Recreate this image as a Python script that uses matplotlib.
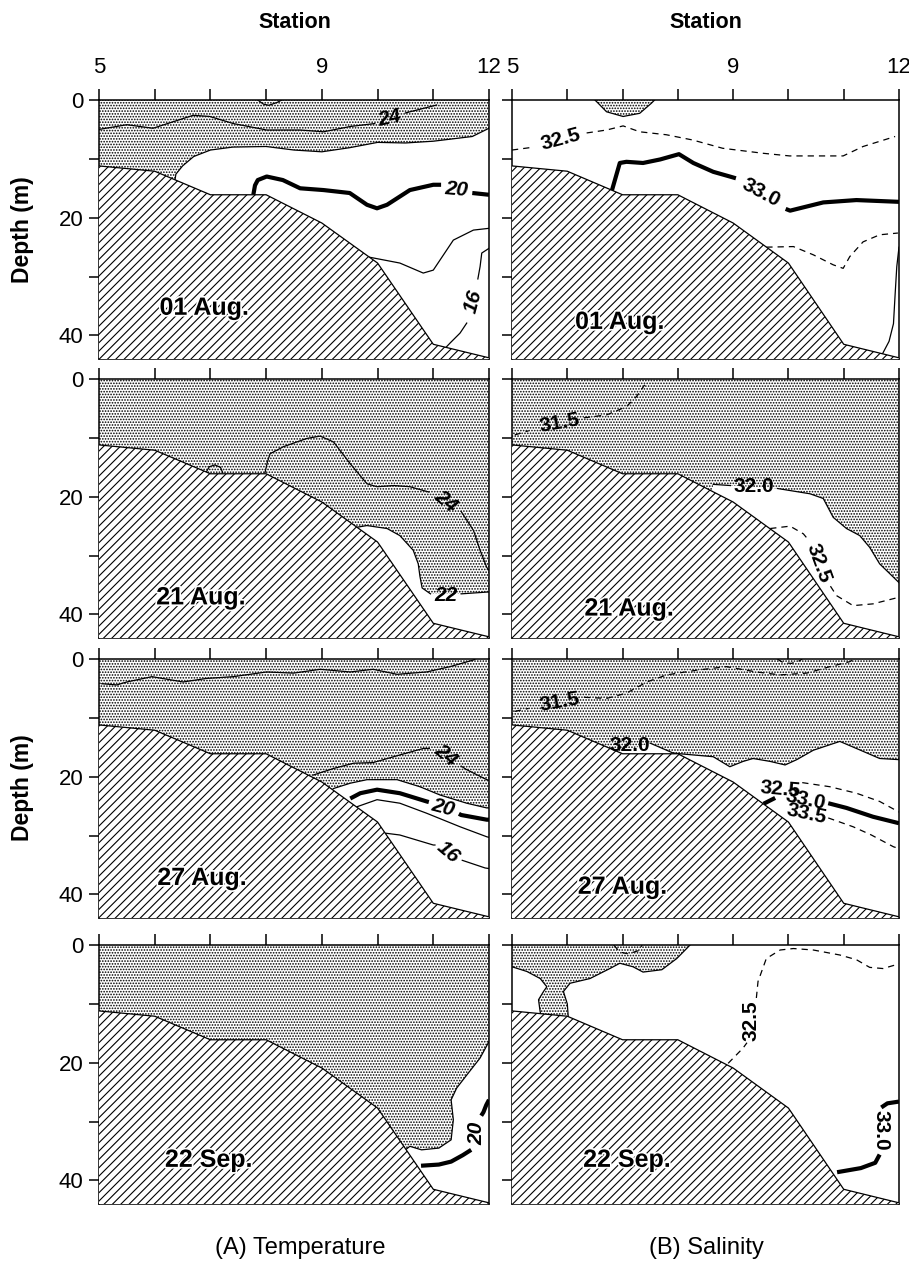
import numpy as np
import matplotlib.pyplot as plt
import matplotlib.patheffects as pe
from matplotlib import font_manager

plt.rcParams['font.family'] = 'Liberation Sans'
plt.rcParams['hatch.linewidth'] = 0.8

# bottom profile along the section (station, depth m) - same for all surveys
stations = [5, 6, 7, 8, 9, 10, 11, 12]
bottom_depth = [11.2, 12.1, 16.1, 16.1, 20.9, 27.7, 41.5, 43.8]
max_depth = 44

station_ticks = [5, 6, 7, 8, 9, 10, 11, 12]
station_labels = ['5', '', '', '', '9', '', '', '12']
depth_ticks = [0, 10, 20, 30, 40]
depth_labels = ['0', '', '20', '', '40']

dates = ['01 Aug.', '21 Aug.', '27 Aug.', '22 Sep.']

# isolines, (station, depth); None = gap for the label
# --- temperature 01 Aug
t1_edge = [(12, 4.8), (11.7, 6.2), (11.0, 7.0), (10.5, 7.3), (10.0, 7.2), (9.5, 8.1), (9.0, 8.8),
           (8.5, 8.5), (8.0, 7.9), (7.4, 8.0), (7.0, 8.5), (6.7, 9.6), (6.5, 11.2), (6.38, 12.6), (6.36, 13.8)]
t1_24 = [(5.0, 5.0), (5.5, 4.2), (5.97, 4.8), (6.33, 3.7), (6.69, 2.6), (6.99, 2.8), (7.41, 4.0),
         (8.01, 5.1), (8.61, 5.1), (9.03, 5.4), (9.51, 4.5), (9.95, 4.0), None, (10.5, 2.2), (11.06, 0.85)]
t1_cap = [(7.85, 0), (7.95, 0.7), (8.05, 0.9), (8.2, 0.4), (8.28, 0)]
t1_20 = [(7.77, 16.1), (7.8, 14.5), (7.85, 13.6), (8.01, 13.0), (8.3, 13.6), (8.61, 15.0), (9.03, 15.3),
         (9.5, 15.8), (9.81, 17.8), (9.99, 18.4), (10.17, 17.8), (10.58, 15.3), (11.0, 14.4), (11.14, 14.4),
         None, (11.7, 15.8), (12, 16.1)]
t1_18 = [(9.85, 26.7), (10.4, 27.7), (10.82, 29.4), (11.0, 28.9), (11.36, 23.8), (11.72, 22.1), (12, 21.8)]
t1_16 = [(12, 25.2), (11.87, 26.0), (11.84, 28.3), (11.8, 30.4), None,
         (11.6, 37.9), (11.48, 39.6), (11.3, 41.3), (11.15, 42.8)]
# --- salinity 01 Aug
s1_edge = [(6.5, 0), (6.56, 0.56), (6.71, 2.0), (7.01, 2.8), (7.31, 2.26), (7.52, 0.56), (7.58, 0)]
s1_325 = [(5.0, 8.5), (5.4, 8.0), None, (6.35, 5.6), (6.71, 5.1), (7.01, 4.4), (7.31, 5.4), (7.79, 5.9),
          (8.27, 6.8), (8.81, 8.2), (9.54, 9.05), (10.02, 9.5), (10.99, 9.5), (11.35, 7.9), (11.93, 6.2)]
s1_33 = [(6.8, 15.6), (6.95, 10.7), (7.07, 10.5), (7.37, 10.7), (7.68, 10.1), (8.02, 9.2), (8.28, 10.7),
         (8.64, 12.2), (8.94, 13.0), (9.05, 13.3), None, (9.95, 18.5), (10.03, 18.8), (10.2, 18.4),
         (10.63, 17.4), (11.23, 17.0), (12, 17.3)]
s1_deep = [(9.6, 25.0), (10.09, 24.9), (10.45, 26.3), (10.81, 28.0), (10.99, 28.6), (11.11, 26.6),
           (11.35, 24.1), (11.65, 22.9), (11.98, 22.6)]
s1_side = [(12, 25.0), (11.96, 28.3), (11.93, 33), (11.9, 38), (11.82, 41), (11.68, 43.5)]
# --- temperature 21 Aug
t2_22 = [(9.62, 25.2), (9.81, 24.9), (10.17, 25.4), (10.4, 26.6), (10.64, 29.1), (10.73, 31.4),
         (10.76, 33.5), (10.8, 35.5), (10.95, 36.5), None, (11.5, 36.5), (11.96, 36.2), (12, 36.2)]
t2_24 = [(7.98, 15.9), (8.02, 14.2), (8.07, 12.7), (8.31, 11.5), (8.73, 10.1), (8.97, 9.7), (9.21, 10.7),
         (9.51, 14.4), (9.81, 17.8), (9.99, 18.3), (10.29, 18.1), (10.58, 18.3), (10.92, 19.2), None,
         (11.5, 22.5), (11.72, 25.7), (11.84, 29.1), (11.96, 32.0), (12, 32.5)]
t2_bump = [(6.92, 15.9), (6.98, 14.9), (7.08, 14.6), (7.18, 15.0), (7.22, 15.9)]
# --- salinity 21 Aug
s2_315 = [(5.05, 9.5), (5.3, 8.8), None, (6.3, 6.6), (6.71, 6.1), (7.07, 4.7), (7.25, 3.0), (7.4, 1.0)]
s2_32 = [(8.64, 17.9), (8.95, 18.1), None, (9.8, 18.6), (10.39, 19.5), (10.63, 20.3), (10.81, 23.5),
         (11.05, 25.4), (11.29, 26.6), (11.47, 28.6), (11.65, 31.4), (11.99, 34.5), (12, 34.6)]
s2_325 = [(9.67, 25.4), (10.03, 25.0), (10.27, 26.3), (10.35, 27.2), None, (10.76, 35.2), (10.87, 36.8),
          (11.17, 38.5), (11.53, 38.2), (11.99, 37.1)]
# --- temperature 27 Aug
t3_edge = [(9.21, 22.0), (9.51, 21.1), (9.81, 20.5), (10.35, 20.5), (10.76, 21.7), (11.12, 23.1),
           (11.6, 24.5), (11.96, 25.3), (12, 25.3)]
t3_surf = [(5.05, 4.2), (5.32, 4.4), (5.5, 3.9), (5.95, 3.0), (6.51, 3.9), (6.93, 3.3), (7.41, 3.0),
           (8.01, 2.2), (8.49, 2.4), (8.97, 1.75), (9.51, 2.2), (9.92, 1.75), (10.35, 2.6), (10.88, 2.2),
           (11.3, 1.3), (11.72, 0.17), (11.75, 0)]
t3_24 = [(8.85, 19.7), (9.21, 18.6), (9.57, 17.7), (9.92, 17.6), (10.4, 16.3), (10.82, 15.2), (10.93, 15.2),
         None, (11.5, 18.2), (11.6, 18.8), (11.96, 20.5), (12, 20.6)]
t3_20 = [(9.51, 23.7), (9.69, 22.8), (9.99, 22.2), (10.4, 22.8), (10.88, 24.2), (10.92, 24.3), None,
         (11.46, 26.3), (11.5, 26.5), (11.96, 27.3), (12, 27.3)]
t3_18 = [(9.63, 25.1), (9.99, 23.9), (10.4, 24.5), (10.88, 26.2), (11.48, 28.5), (11.96, 30.2), (12, 30.3)]
t3_16 = [(10.15, 29.6), (10.4, 29.9), (11.0, 31.6), (11.03, 31.6), None, (11.52, 34.2), (11.93, 35.5), (12, 35.6)]
# --- salinity 27 Aug
s3_32 = [(7.5, 14.3), (7.92, 16.0), (8.64, 16.6), (8.94, 18.3), (9.18, 17.4), (9.36, 16.9), (9.67, 17.4),
         (9.94, 18.0), (10.15, 17.1), (10.45, 15.5), (10.93, 14.0), (11.23, 15.2), (11.65, 16.9), (12, 17.1)]
s3_315 = [(5.05, 8.9), (5.3, 8.4), None, (6.3, 6.5), (6.71, 6.7), (7.07, 5.8), (7.44, 3.9), (7.8, 2.7),
          (8.34, 1.9), (8.88, 1.3), (9.42, 2.2), (9.85, 2.7), (10.33, 2.4), (10.75, 1.3), (11.11, 0.45), (11.2, 0)]
s3_bump = [(9.8, 0), (9.9, 0.6), (10.05, 0.75), (10.2, 0.3), (10.25, 0)]
s3_325 = [(10.25, 21.0), (10.75, 21.7), (11.23, 22.8), (11.65, 24.2), (12, 26.0)]
s3_33 = [(9.55, 24.6), (9.76, 23.6), None, (10.72, 24.5), (11.05, 25.3), (11.53, 26.8), (12, 27.9)]
s3_335 = [(10.72, 27.0), (11.17, 28.5), (11.5, 29.9), (11.9, 31.9), (12, 32.2)]
# --- temperature 22 Sep
t4_edge = [(12, 16.4), (11.84, 19.2), (11.6, 22.1), (11.42, 24.3), (11.32, 26.3), (11.36, 29.7),
           (11.32, 33.1), (11.1, 34.5), (10.79, 34.8), (10.58, 34.2), (10.5, 34.8)]
t4_20 = [(10.78, 37.5), (11.1, 37.3), (11.32, 36.8), (11.53, 35.7), (11.68, 34.8), None,
         (11.86, 29.0), (11.9, 28.4), (11.95, 27.2), (12, 26.3)]
# --- salinity 22 Sep
s4_edge = [(8.22, 0), (8.19, 0.3), (7.98, 2.3), (7.71, 4.2), (7.37, 4.6), (7.19, 3.7), (6.95, 3.1),
           (6.77, 4.0), (6.41, 5.7), (6.05, 6.5), (5.93, 7.9), (6.0, 10.0), (6.02, 12.5)]
s4_edge2 = [(5.0, 3.7), (5.27, 4.5), (5.51, 5.7), (5.63, 7.1), (5.57, 7.9), (5.48, 9.3), (5.5, 10.7), (5.52, 12.0)]
s4_dip = [(6.84, 0), (6.95, 1.2), (7.1, 1.5), (7.31, 0.9), (7.35, 0)]
s4_325 = [(8.91, 20.1), (9.18, 17.5), (9.25, 16.6), None, (9.42, 9.0), (9.45, 6.2), (9.6, 2.3), (9.85, 0.85),
          (10.09, 0.6), (10.45, 0.85), (10.93, 1.7), (11.23, 2.5), (11.47, 3.8), (11.71, 4.0), (11.93, 3.4), (12, 3.2)]
s4_33 = [(10.88, 38.6), (11.31, 37.9), (11.57, 37.0), (11.65, 35.6), None, (11.68, 27.6), (11.79, 26.9), (12, 26.6)]


def solid(pts):
    return [p for p in pts if p is not None]


# dotted (warm / fresh) water areas
t1_dots = [(5, 0), (12, 0)] + t1_edge + [(6.36, 25), (5, 25)]
t2_dots = [(5, 0), (12, 0)] + solid(t2_22)[::-1] + [(9.4, 30), (5, 30)]
t3_dots = [(5, 0), (12, 0)] + t3_edge[::-1] + [(9.0, 30), (5, 30)]
t4_dots = [(5, 0), (12, 0)] + t4_edge + [(10.3, 40), (5, 40)]
s1_dots = s1_edge
s2_dots = [(5, 0), (12, 0)] + solid(s2_32)[::-1] + [(8.5, 30), (5, 30)]
s3_dots = [(5, 0), (12, 0)] + s3_32[::-1] + [(6.92, 16.0), (6.8, 25), (5, 25)]
s4_dots = [(5, 0)] + s4_edge + s4_edge2[::-1]

temp_sections = [
    ([t1_dots], [(t1_edge, 'thin'), (t1_24, 'thin'), (t1_cap, 'thin'), (t1_20, 'thick'),
                 (t1_18, 'thin'), (t1_16, 'thin')],
     [('24', 10.22, 3.1, 12), ('20', 11.42, 15.2, -5), ('16', 11.72, 34.2, 75)]),
    ([t2_dots], [(t2_22, 'thin'), (t2_24, 'thin'), (t2_bump, 'thin')],
     [('24', 11.22, 20.8, -40), ('22', 11.22, 36.7, 0)]),
    ([t3_dots], [(t3_edge, 'thin'), (t3_surf, 'thin'), (t3_24, 'thin'), (t3_20, 'thick'),
                 (t3_18, 'thin'), (t3_16, 'thin')],
     [('24', 11.22, 16.4, -40), ('20', 11.18, 25.3, -15), ('16', 11.27, 32.8, -40)]),
    ([t4_dots], [(t4_edge, 'thin'), (t4_20, 'thick')],
     [('20', 11.79, 32.0, 90)]),
]
sal_sections = [
    ([s1_dots], [(s1_edge, 'thin'), (s1_325, 'dash'), (s1_33, 'thick'), (s1_deep, 'dash'), (s1_side, 'thin')],
     [('32.5', 5.88, 6.7, 15), ('33.0', 9.5, 15.8, -28)]),
    ([s2_dots], [(s2_315, 'dash'), (s2_32, 'thin'), (s2_325, 'dash')],
     [('31.5', 5.87, 7.5, 10), ('32.0', 9.37, 18.3, 0), ('32.5', 10.55, 31.3, -70)]),
    ([s3_dots], [(s3_32, 'thin'), (s3_315, 'dash'), (s3_bump, 'dash'), (s3_325, 'dash'),
                 (s3_33, 'thick'), (s3_335, 'dash')],
     [('31.5', 5.87, 7.3, 10), ('32.0', 7.13, 14.7, 0), ('32.5', 9.85, 22.1, -5),
      ('33.0', 10.3, 23.9, -12), ('33.5', 10.33, 26.3, -12)]),
    ([s4_dots], [(s4_edge, 'thin'), (s4_edge2, 'thin'), (s4_dip, 'dash'), (s4_325, 'dash'), (s4_33, 'thick')],
     [('32.5', 9.33, 12.9, 90), ('33.0', 11.68, 31.5, -90)]),
]

date_pos_temp = [(6.89, 35.3), (6.83, 37.1), (6.85, 37.2), (6.97, 36.5)]
date_pos_sal = [(6.95, 37.7), (7.12, 39.0), (7.0, 38.7), (7.08, 36.5)]

line_style = {
    'thin': dict(lw=0.9),
    'thick': dict(lw=3.0, solid_capstyle='butt'),
    'dash': dict(lw=0.9, dashes=(5, 4)),
}

names = {f.name for f in font_manager.fontManager.ttflist}
narrow = 'Liberation Sans Narrow' if 'Liberation Sans Narrow' in names else 'Liberation Sans'


def draw_section(ax, dots, lines, labels, date, date_pos, italic):
    for poly in dots:
        px, pz = zip(*poly)
        ax.fill(px, pz, facecolor='none', edgecolor='black', hatch='......', lw=0, zorder=1)
    for pts, kind in lines:
        x = [np.nan if p is None else p[0] for p in pts]
        z = [np.nan if p is None else p[1] for p in pts]
        ax.plot(x, z, color='black', zorder=2, **line_style[kind])
    ax.fill_between(stations, bottom_depth, max_depth, facecolor='white', edgecolor='black',
                    hatch='////', lw=0, zorder=3)
    ax.plot(stations, bottom_depth, color='black', lw=0.9, zorder=3.5)
    for s, x, z, rot in labels:
        ax.text(x, z, s, rotation=rot, ha='center', va='center', fontsize=15, fontweight='bold',
                style='italic' if italic else 'normal', rotation_mode='anchor', zorder=4)
    ax.text(date_pos[0], date_pos[1], date, ha='center', va='center', fontsize=18, fontweight='bold',
            family=narrow, zorder=5,
            path_effects=[pe.withStroke(linewidth=2.5, foreground='white')])


fig = plt.figure(figsize=(9.09, 12.62), dpi=100)
W, H = 909, 1262
col_x = [99, 512]
col_w = [390, 387]
row_top = [100, 379, 659, 945]
row_h = 259

for c, sections in enumerate([temp_sections, sal_sections]):
    for r, (dots, lines, labels) in enumerate(sections):
        ax = fig.add_axes([col_x[c] / W, 1 - (row_top[r] + row_h) / H, col_w[c] / W, row_h / H])
        ax.set_xlim(5, 12)
        ax.set_ylim(max_depth, 0)
        ax.xaxis.tick_top()
        ax.set_xticks(station_ticks)
        ax.set_xticklabels(station_labels if r == 0 else [''] * len(station_ticks))
        ax.set_yticks(depth_ticks)
        ax.set_yticklabels(depth_labels if c == 0 else [''] * len(depth_ticks))
        ax.tick_params(axis='x', length=8, width=1.1, pad=8, labelsize=16)
        ax.tick_params(axis='y', length=7, width=1.1, pad=4, labelsize=16)
        for sp in ax.spines.values():
            sp.set_linewidth(1.1)
        pos = date_pos_temp[r] if c == 0 else date_pos_sal[r]
        draw_section(ax, dots, lines, labels, dates[r], pos, italic=(c == 0))

fig.text(295 / W, 1 - 22 / H, 'Station', ha='center', va='center', fontsize=15.5, fontweight='bold')
fig.text(706 / W, 1 - 22 / H, 'Station', ha='center', va='center', fontsize=15.5, fontweight='bold')
fig.text(22 / W, 1 - 230 / H, 'Depth (m)', rotation=90, ha='center', va='center', fontsize=16.5, fontweight='bold')
fig.text(22 / W, 1 - 788 / H, 'Depth (m)', rotation=90, ha='center', va='center', fontsize=16.5, fontweight='bold')
fig.text(300 / W, 1 - 1248 / H, '(A) Temperature', ha='center', va='center', fontsize=17, family=narrow)
fig.text(706 / W, 1 - 1248 / H, '(B) Salinity', ha='center', va='center', fontsize=17, family=narrow)

fig.savefig('out.png', dpi=100)
